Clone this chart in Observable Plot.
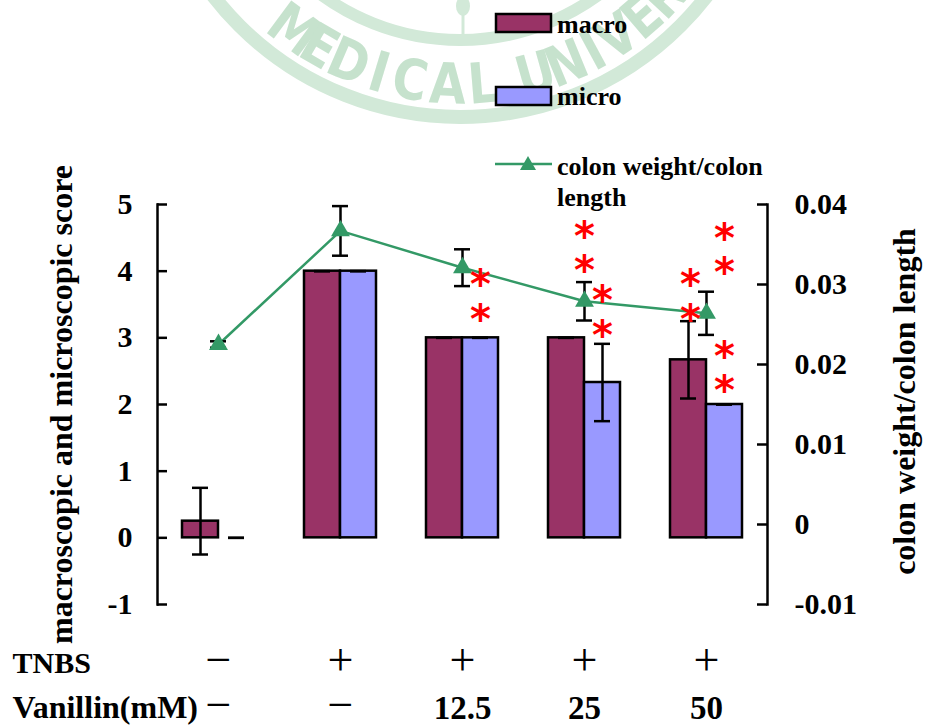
<!DOCTYPE html>
<html><head><meta charset="utf-8">
<script src="https://cdn.jsdelivr.net/npm/d3@7"></script>
<script src="https://cdn.jsdelivr.net/npm/@observablehq/plot@0.6"></script>
<style>
body{margin:0;background:#fff;}
#wrap{position:relative;width:925px;height:727px;overflow:hidden;font-family:"Liberation Serif","Times New Roman",serif;}
#wrap > svg, #wrap > figure > svg{position:absolute;left:0;top:0;}
</style></head><body><div id="wrap"></div>
<script>
// ---- data ----
const groups = ["G1", "G2", "G3", "G4", "G5"];
const tnbsLabels = ["−", "+", "+", "+", "+"];
const vanillinLabels = ["−", "−", "12.5", "25", "50"];
const macro = [0.25, 4, 3, 3, 2.67];
const macroErr = [0.5, 0, 0, 0, 0.58];
const micro = [0, 4, 3, 2.33, 2];
const microErr = [0, 0, 0, 0.58, 0];
const ratio = [0.0225, 0.0367, 0.0321, 0.0279, 0.0264];
const ratioErr = [0.0004, 0.0031, 0.0023, 0.0024, 0.0027];
const leftTicks = [-1, 0, 1, 2, 3, 4, 5];
const rightTicks = [-0.01, 0, 0.01, 0.02, 0.03, 0.04];
// significance stars: group, which bar they annotate, height on left scale
const starGroup = ["G3", "G3", "G4", "G4", "G4", "G4", "G5", "G5", "G5", "G5", "G5", "G5"];
const starBar = ["micro", "micro", "line", "line", "micro", "micro", "macro", "macro", "micro", "micro", "micro", "micro"];
const starY = [3.88, 3.36, 4.60, 4.09, 3.64, 3.12, 3.88, 3.36, 4.57, 4.06, 2.80, 2.29];

// ---- dual-axis mapping ----
const yDom = [-1, 5], rDom = [-0.01, 0.04];
const toLeft = v => yDom[0] + (v - rDom[0]) / (rDom[1] - rDom[0]) * (yDom[1] - yDom[0]);
const fromLeft = y => rDom[0] + (y - yDom[0]) / (yDom[1] - yDom[0]) * (rDom[1] - rDom[0]);
const fmtNum = (v, digits) => {
  const r = +v.toFixed(digits);
  if (Math.abs(r) < 1e-9) return "0";
  return (r < 0 ? "-" : "") + Math.abs(r).toFixed(digits);
};

const rows = groups.map((g, i) => ({
  group: g, macro: macro[i], macroErr: macroErr[i], micro: micro[i], microErr: microErr[i],
  ratio: toLeft(ratio[i]), ratioLo: toLeft(ratio[i] - ratioErr[i]), ratioHi: toLeft(ratio[i] + ratioErr[i]),
  tnbs: tnbsLabels[i], van: vanillinLabels[i]
}));
const stars = starGroup.map((g, i) => ({group: g, bar: starBar[i], y: starY[i]}));

const W = 925, H = 727, mL = 157, mR = 158, mT = 204, mB = 123;
const frameW = W - mL - mR;
const bandW = frameW / groups.length;
const barW = 36, capW = 16, tickLen = 10, lw = 2.5;
const barOff = barW / 2;

const macroC = "#993366", microC = "#9999ff", lineC = "#339966";
const bold = {fontWeight: "bold", fontFamily: "Liberation Serif"};

const starMarks = [["macro", -barOff + 2], ["micro", barOff], ["line", 0]].map(([b, dx]) =>
  Plot.text(stars.filter(s => s.bar === b), {x: "group", y: "y", text: () => "*", dx, dy: 19,
    fill: "#ff0000", fontSize: 40, fontFamily: "DejaVu Sans", fontWeight: "bold", lineAnchor: "bottom"}));

const capInset = (bandW - capW) / 2;
const errMarks = (key, errKey, dx) => [
  Plot.ruleX(rows.filter(d => d[errKey] > 0), {x: "group", y1: d => d[key] - d[errKey], y2: d => d[key] + d[errKey], dx, stroke: "black", strokeWidth: lw}),
  Plot.tickY(rows, {x: "group", y: d => d[key] - d[errKey], dx, insetLeft: capInset, insetRight: capInset, stroke: "black", strokeWidth: lw}),
  Plot.tickY(rows, {x: "group", y: d => d[key] + d[errKey], dx, insetLeft: capInset, insetRight: capInset, stroke: "black", strokeWidth: lw})
];

const chart = Plot.plot({
  width: W, height: H,
  marginLeft: mL, marginRight: mR, marginTop: mT, marginBottom: mB,
  style: {background: "transparent", fontFamily: "Liberation Serif", overflow: "visible"},
  x: {type: "band", domain: groups, padding: 0, axis: null},
  y: {domain: yDom},
  marks: [
    Plot.barY(rows.filter(d => d.macro !== 0), {x: "group", y: "macro", fill: macroC, stroke: "black", strokeWidth: lw,
      insetLeft: bandW / 2 - barW, insetRight: bandW / 2}),
    Plot.barY(rows.filter(d => d.micro !== 0), {x: "group", y: "micro", fill: microC, stroke: "black", strokeWidth: lw,
      insetLeft: bandW / 2, insetRight: bandW / 2 - barW}),
    ...errMarks("macro", "macroErr", -barOff),
    ...errMarks("micro", "microErr", barOff),
    Plot.line(rows, {x: "group", y: "ratio", stroke: lineC, strokeWidth: 2.5}),
    Plot.ruleX(rows, {x: "group", y1: "ratioLo", y2: "ratioHi", stroke: "black", strokeWidth: lw}),
    Plot.tickY(rows, {x: "group", y: "ratioLo", insetLeft: capInset, insetRight: capInset, stroke: "black", strokeWidth: lw}),
    Plot.tickY(rows, {x: "group", y: "ratioHi", insetLeft: capInset, insetRight: capInset, stroke: "black", strokeWidth: lw}),
    Plot.dot(rows, {x: "group", y: "ratio", symbol: "triangle", fill: lineC, r: 7}),
    ...starMarks,
    // axes
    Plot.frame({anchor: "left", stroke: "black", strokeWidth: lw}),
    Plot.frame({anchor: "right", stroke: "black", strokeWidth: lw}),
    Plot.ruleY(leftTicks, {y: d => d, insetRight: frameW - tickLen, stroke: "black", strokeWidth: lw}),
    Plot.ruleY(rightTicks.map(toLeft), {y: d => d, insetLeft: frameW - tickLen, stroke: "black", strokeWidth: lw}),
    Plot.axisY(leftTicks, {anchor: "left", tickSize: 0, tickPadding: 25, label: null, fontSize: 30, ...bold,
      tickFormat: d => fmtNum(d, 0), fill: "black"}),
    Plot.axisY(rightTicks.map(toLeft), {anchor: "right", tickSize: 0, tickPadding: 27, label: null, fontSize: 30, ...bold,
      tickFormat: d => fmtNum(fromLeft(d), 2), fill: "black"}),
    Plot.text(["macroscopic and microscopic score"], {frameAnchor: "left", textAnchor: "middle", rotate: -90, dx: -86, lineAnchor: "bottom",
      fontSize: 32, ...bold, fill: "black"}),
    Plot.text(["colon weight/colon length"], {frameAnchor: "right", textAnchor: "middle", rotate: -90, dx: 147, dy: -3, lineAnchor: "bottom",
      fontSize: 32, ...bold, fill: "black"}),
    // treatment rows
    Plot.text(["TNBS"], {frameAnchor: "bottom-left", textAnchor: "start", dx: 12 - mL, dy: 68, lineAnchor: "bottom", fontSize: 30, ...bold}),
    Plot.text(["Vanillin(mM)"], {frameAnchor: "bottom-left", textAnchor: "start", dx: 12 - mL, dy: 113, lineAnchor: "bottom", fontSize: 32, ...bold}),
    Plot.text(rows, {x: "group", text: "tnbs", frameAnchor: "bottom", dy: 70, lineAnchor: "bottom", fontSize: 46, fontFamily: "Liberation Serif"}),
    Plot.text(rows.filter(d => d.van === "−"), {x: "group", text: "van", frameAnchor: "bottom", dy: 115, lineAnchor: "bottom", fontSize: 46, fontFamily: "Liberation Serif"}),
    Plot.text(rows.filter(d => d.van !== "−"), {x: "group", text: "van", frameAnchor: "bottom", dy: 114, lineAnchor: "bottom", fontSize: 33, ...bold})
  ]
});

// watermark (background seal) + legend (foreground)
const ns = "http://www.w3.org/2000/svg";
const wrap = document.getElementById("wrap");
const wm = document.createElementNS(ns, "svg");
wm.setAttribute("width", W); wm.setAttribute("height", H);
const cx = 460, cy = -195, rText = 279;
const sealLetters = [["M", 126.5], ["E", 120.2], ["D", 113.4], ["I", 106.8], ["C", 100.3], ["A", 92.5], ["L", 85.3],
  ["U", 74.3], ["N", 67.6], ["I", 61.5], ["V", 55.8], ["E", 49.3], ["R", 43.0], ["S", 36.8]];
const wmColor = "#c6e2cd";
let letters = "";
for (const [ch, ang] of sealLetters) {
  const a = ang * Math.PI / 180;
  const x = cx + rText * Math.cos(a), y = cy + rText * Math.sin(a);
  letters += `<text x="0" y="0" text-anchor="middle" dominant-baseline="central" transform="translate(${x.toFixed(1)},${y.toFixed(1)}) rotate(${(ang - 90).toFixed(1)}) scale(0.85,1)">${ch}</text>`;
}
wm.innerHTML = `
  <g fill="none" stroke="#d2e9d8">
    <circle cx="${cx}" cy="${cy}" r="312" stroke-width="14"/>
    <circle cx="${cx}" cy="${cy}" r="235" stroke-width="12"/>
  </g>
  <line x1="463" y1="0" x2="463" y2="34" stroke="#d2e9d8" stroke-width="3"/>
  <ellipse cx="463" cy="6" rx="7" ry="10" fill="#d2e9d8"/>
  <g font-family="DejaVu Sans" font-weight="bold" font-size="56" fill="${wmColor}">${letters}</g>`;
wrap.appendChild(wm);
wrap.appendChild(chart);

const lg = document.createElementNS(ns, "svg");
lg.setAttribute("width", W); lg.setAttribute("height", H);
lg.innerHTML = `
  <g font-family="Liberation Serif" font-weight="bold" font-size="26" fill="black">
    <rect x="496" y="14" width="55" height="18" fill="${macroC}" stroke="black" stroke-width="2.5"/>
    <text x="557" y="33">macro</text>
    <rect x="496" y="87" width="55" height="18" fill="${microC}" stroke="black" stroke-width="2.5"/>
    <text x="557" y="105">micro</text>
    <line x1="495" y1="164" x2="552" y2="164" stroke="${lineC}" stroke-width="2.5"/>
    <path d="M528,156 L536,170 L520,170 Z" fill="${lineC}"/>
    <text x="557" y="175">colon weight/colon</text>
    <text x="557" y="206">length</text>
  </g>`;
wrap.appendChild(lg);
</script></body></html>
